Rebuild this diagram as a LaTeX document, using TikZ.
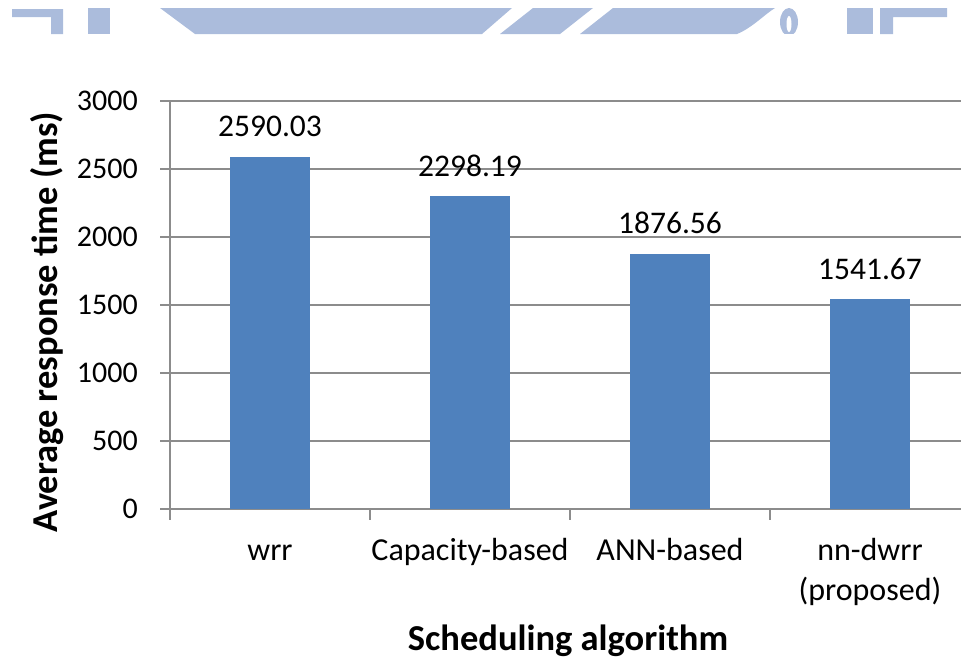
\documentclass[tikz,border=0pt]{standalone}
\usepackage{fontspec}
\setmainfont{Carlito}
\definecolor{barblue}{HTML}{4F81BD}
\definecolor{gridgray}{HTML}{8C8C8C}
\definecolor{wmark}{HTML}{ABBCDC}
\tikzset{
  gridline/.style={draw=gridgray, line width=1.6pt},
  bar/.style={fill=barblue},
  ticklabel/.style={anchor=east, inner sep=0pt, font=\fontsize{30}{36}\selectfont},
  vallabel/.style={anchor=base, inner sep=0pt, font=\fontsize{31.5}{36}\selectfont},
  catlabel/.style={anchor=base, inner sep=0pt, font=\fontsize{32}{38}\selectfont},
  axtitle/.style={inner sep=0pt, font=\fontsize{36.5}{42}\selectfont\bfseries},
  wm/.style={fill=wmark}
}
\begin{document}
\begin{tikzpicture}[x=1pt, y=-1pt]
\useasboundingbox (0,0) rectangle (961,662);

% faded logo band along the top edge
\fill[wm] (12,9) -- (63,9) -- (63,34) -- (51,34) -- (51,17) -- (12,17) -- cycle;
\fill[wm] (88,8) rectangle (110,34);
\fill[wm] (160,8) -- (512,8) -- (482,34) -- (195,34) -- cycle;
\fill[wm] (533,8) -- (593,8) -- (560,34) -- (500,34) -- cycle;
\fill[wm] (613,8) -- (775,8) .. controls (765,14) and (752,28) .. (737,34) -- (580,34) -- cycle;
\fill[wm] (789,22) ellipse [x radius=9, y radius=14];
\fill[white] (789,24) ellipse [x radius=2.5, y radius=8];
\fill[white] (770,34) rectangle (810,40);
\fill[wm] (847,8) rectangle (873,34);
\fill[wm] (880,8) -- (947,8) -- (947,17) -- (893,17) -- (893,34) -- (880,34) -- cycle;

% value gridlines with their labels
\foreach \v [count=\i] in {0,500,1000,1500,2000,2500,3000} {
  \pgfmathsetmacro{\yy}{509-\v*0.136}
  \draw[gridline] (160,\yy) -- (961,\yy);
  \node[ticklabel] (tick\i) at (138,\yy) {\v};
}

% axes
\draw[gridline] (170,101) -- (170,509);
\foreach \xx in {170,370,570,770} {
  \draw[gridline] (\xx,509) -- (\xx,520);
}

% bars and their values
\foreach \cx/\val/\txt/\nm in {270/2590.03/2590.03/b1, 470/2298.19/2298.19/b2, 670/1876.56/1876.56/b3, 870/1541.67/1541.67/b4} {
  \pgfmathsetmacro{\top}{509-\val*0.136}
  \fill[bar] (\cx-40,\top) rectangle (\cx+40,509);
  \node[vallabel] (\nm) at (\cx,\top-20) {\txt};
}

% category names
\node[catlabel] (c1) at (270,560) {wrr};
\node[catlabel] (c2) at (470,560) {Capacity-based};
\node[catlabel] (c3) at (670,560) {ANN-based};
\node[catlabel] (c4) at (870,560) {nn-dwrr};
\node[catlabel] (c4b) at (870,600) {(proposed)};

% axis titles
\node[axtitle, anchor=base] (xtitle) at (568,650) {Scheduling algorithm};
\node[axtitle, rotate=90, anchor=base] (ytitle) at (57,322) {Average response time (ms)};
\end{tikzpicture}
\end{document}
